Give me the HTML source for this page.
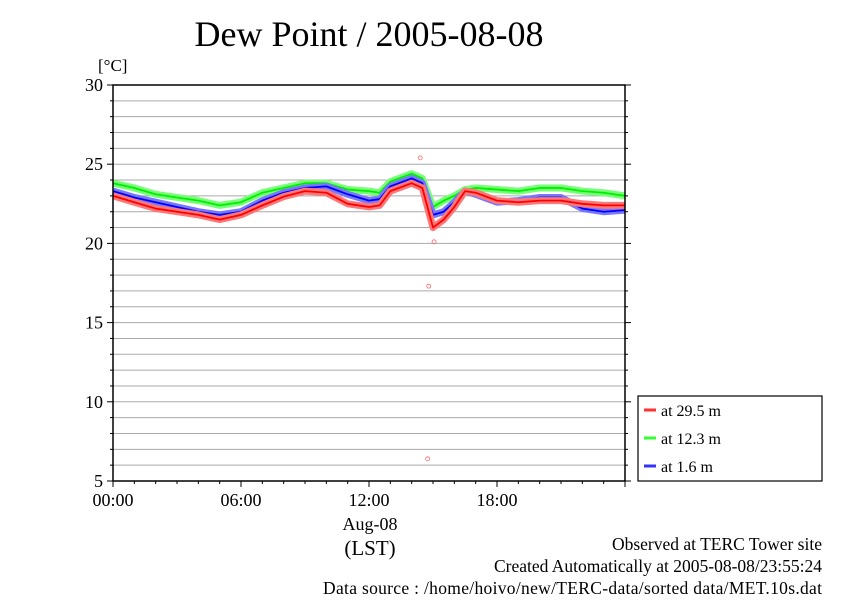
<!DOCTYPE html>
<html><head><meta charset="utf-8"><style>
body{margin:0;background:#fff}
svg text{font-family:"Liberation Serif",serif;fill:#000}
</style></head><body>
<svg id="c" width="842" height="595" viewBox="0 0 842 595">
<text x="369" y="46" font-size="36" text-anchor="middle">Dew Point / 2005-08-08</text>
<text x="98" y="71" font-size="17">[°C]</text>
<g id="grid"></g>
<g id="series"></g>
<rect x="113" y="85" width="512" height="396" fill="none" stroke="#000" stroke-width="1.5"/>
<g id="axes"></g>
<text x="370" y="530" font-size="18" text-anchor="middle">Aug-08</text>
<text x="370" y="555" font-size="21" text-anchor="middle">(LST)</text>
<g>
<rect x="638" y="396" width="184" height="85" fill="#fff" stroke="#000" stroke-width="1.2"/>
<line x1="644" y1="410" x2="656" y2="410" stroke="#f33" stroke-width="3"/><text x="661" y="416" font-size="16">at 29.5 m</text>
<line x1="644" y1="438" x2="656" y2="438" stroke="#3f3" stroke-width="3"/><text x="661" y="444" font-size="16">at 12.3 m</text>
<line x1="644" y1="466" x2="656" y2="466" stroke="#33f" stroke-width="3"/><text x="661" y="472" font-size="16">at 1.6 m</text>
</g>
<text x="822" y="550" font-size="17.5" text-anchor="end">Observed at TERC Tower site</text>
<text x="822" y="572" font-size="17.5" text-anchor="end">Created Automatically at 2005-08-08/23:55:24</text>
<text x="822" y="594" font-size="17.5" text-anchor="end" textLength="499">Data source : /home/hoivo/new/TERC-data/sorted  data/MET.10s.dat</text>
</svg>
<script>
const hours=[0,1,2,3,4,5,6,7,8,9,10,11,12,12.5,13,14,14.5,15,15.5,16,16.5,17,18,19,20,21,22,23,24];
const red=[23.0,22.6,22.2,22.0,21.8,21.5,21.8,22.4,22.95,23.3,23.2,22.5,22.3,22.4,23.3,23.8,23.5,21.0,21.5,22.3,23.3,23.2,22.7,22.6,22.7,22.7,22.5,22.4,22.4];
const blue=[23.3,22.9,22.6,22.3,22.0,21.8,22.0,22.7,23.2,23.5,23.6,23.1,22.7,22.8,23.6,24.1,23.8,21.8,22.0,22.6,23.3,23.1,22.6,22.7,22.9,22.9,22.2,22.0,22.1];
const green=[23.8,23.5,23.1,22.9,22.7,22.4,22.6,23.2,23.5,23.8,23.8,23.4,23.3,23.2,23.9,24.4,24.1,22.3,22.7,23.0,23.4,23.5,23.4,23.3,23.5,23.5,23.3,23.2,23.0];
const outlierHours=[14.4,14.8,15.05,14.75];
const outlierValues=[25.4,17.3,20.1,6.4];
const yTicks=[5,10,15,20,25,30];
const xTicks=[0,6,12,18];
const xTickLabels=["00:00","06:00","12:00","18:00"];
const NS="http://www.w3.org/2000/svg";
const X=h=>113+h*512/24, Y=v=>481-(v-5)*396/25;
function mk(t,a,p){const e=document.createElementNS(NS,t);for(const k in a)e.setAttribute(k,a[k]);p.appendChild(e);return e;}
const grid=document.getElementById('grid'),axes=document.getElementById('axes'),ser=document.getElementById('series');
for(let v=6;v<30;v++){const l=mk('line',{x1:113,x2:625,y1:Y(v),y2:Y(v),stroke:'#aaa','stroke-width':1},grid);

}
for(let v=5;v<=30;v++){const big=v%5==0;
mk('line',{x1:113,x2:big?107:110,y1:Y(v),y2:Y(v),stroke:'#000'},axes);
mk('line',{x1:625,x2:big?631:628,y1:Y(v),y2:Y(v),stroke:'#000'},axes);}
yTicks.forEach(v=>{const t=mk('text',{x:103,y:Y(v)+6,'font-size':18,'text-anchor':'end'},axes);t.textContent=v;

});
for(let h=0;h<=24;h++){mk('line',{x1:X(h),x2:X(h),y1:481,y2:h%6==0?487:484,stroke:'#000'},axes);}
xTicks.forEach((h,i)=>{const t=mk('text',{x:X(h),y:506,'font-size':18,'text-anchor':'middle'},axes);t.textContent=xTickLabels[i];

});
function draw(vals,light,dark,name){
 const pts=hours.map((h,i)=>X(h)+','+Y(vals[i])).join(' ');
 const b=mk('polyline',{points:pts,fill:'none',stroke:light,'stroke-width':7,'stroke-linejoin':'round'},ser);
 
 
 const l=mk('polyline',{points:pts,fill:'none',stroke:dark,'stroke-width':1.8,'stroke-linejoin':'round'},ser);
 
 }
draw(green,'#7f7','#0e0','series-12-3m');
draw(blue,'#77f','#00f','series-1-6m');
draw(red,'#f77','#f00','series-29-5m');
outlierHours.forEach((h,i)=>{const c=mk('circle',{cx:X(h),cy:Y(outlierValues[i]),r:2,fill:'none',stroke:'#f66','stroke-width':0.8},ser);

});
</script>
</body></html>
